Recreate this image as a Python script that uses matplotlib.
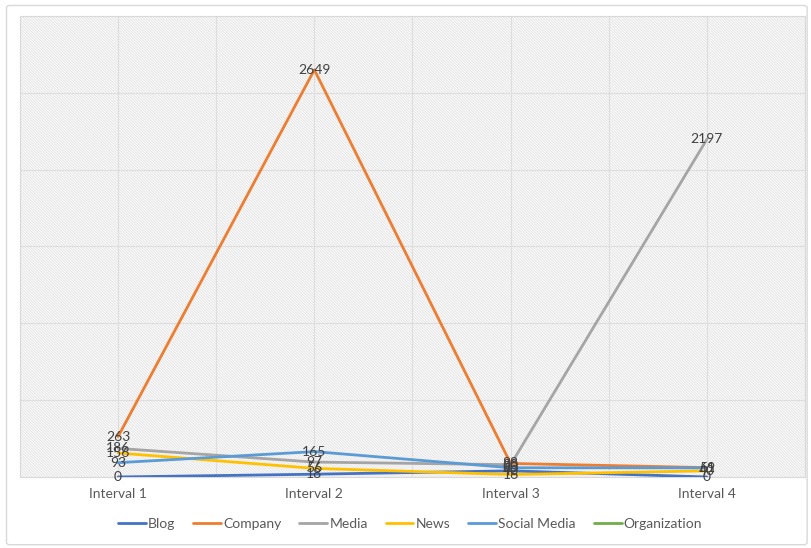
import numpy as np
import matplotlib

matplotlib.use("Agg")
import matplotlib.pyplot as plt  # noqa: E402
from matplotlib.patches import Rectangle, FancyBboxPatch  # noqa: E402

plt.rcParams["font.family"] = ["Lato", "DejaVu Sans"]
plt.rcParams["hatch.linewidth"] = 0.7
plt.rcParams["hatch.color"] = "#e2e2e2"

# Dados por intervalo
intervalos = ["Interval 1", "Interval 2", "Interval 3", "Interval 4"]
blog = [0, 18, 40, 0]
company = [263, 2649, 88, 61]
media = [186, 97, 80, 2197]
news = [156, 56, 16, 40]
social_media = [93, 165, 60, 59]
organization = [np.nan, np.nan, np.nan, np.nan]

series = [
    ("Blog", blog, "#4472C4"),
    ("Company", company, "#ED7D31"),
    ("Media", media, "#A5A5A5"),
    ("News", news, "#FFC000"),
    ("Social Media", social_media, "#5B9BD5"),
    ("Organization", organization, "#70AD47"),
]

fig = plt.figure(figsize=(8.12, 5.48), dpi=100)
# moldura do gráfico (sem preenchimento, para não cobrir os eixos)
fig.patches.append(
    FancyBboxPatch((0.008, 0.006), 0.986, 0.984, boxstyle="round,pad=0,rounding_size=0.004",
                   transform=fig.transFigure, facecolor="none", edgecolor="#d9d9d9",
                   linewidth=1.0, zorder=0)
)
ax = fig.add_axes([0.0246, 0.1296, 0.9668, 0.8414])
ax.set_zorder(2)
ax.set_facecolor("white")

# fundo hachurado da área de plotagem
ax.add_patch(Rectangle((0, 0), 1, 1, transform=ax.transAxes, facecolor="white",
                       edgecolor="#e2e2e2", hatch="\\" * 12, linewidth=0, zorder=0))

x = np.arange(len(intervalos)) + 0.5
for nome, valores, cor in series:
    ax.plot(x, valores, color=cor, linewidth=2.0, label=nome, zorder=3,
            solid_capstyle="round")
    for xi, v in zip(x, valores):
        if np.isnan(v):
            continue
        ax.text(xi, v, f"{v:g}", ha="center", va="center", fontsize=10,
                color="#404040", zorder=5)

ax.set_xlim(0, 4)
ax.set_ylim(0, 3000)
ax.set_yticks(np.arange(0, 3001, 500))
ax.set_yticklabels([])
ax.set_xticks(x)
ax.set_xticklabels(intervalos)
ax.set_xticks(np.arange(0, 5), minor=True)
ax.tick_params(axis="both", which="both", length=0)
ax.tick_params(axis="x", labelsize=10, labelcolor="#595959", pad=8)
ax.grid(True, axis="y", which="major", color="#dedede", linewidth=0.8)
ax.grid(True, axis="x", which="both", color="#dedede", linewidth=0.8)
ax.set_axisbelow(True)
for s in ax.spines.values():
    s.set_color("#d9d9d9")
    s.set_linewidth(0.8)

fig.legend(*ax.get_legend_handles_labels(), loc="center", bbox_to_anchor=(0.505, 0.044),
           ncol=6, frameon=False, fontsize=10, handlelength=2.0, handletextpad=0.15,
           columnspacing=1.3, labelcolor="#595959")

fig.savefig("out.png", dpi=100)
plt.close(fig)
